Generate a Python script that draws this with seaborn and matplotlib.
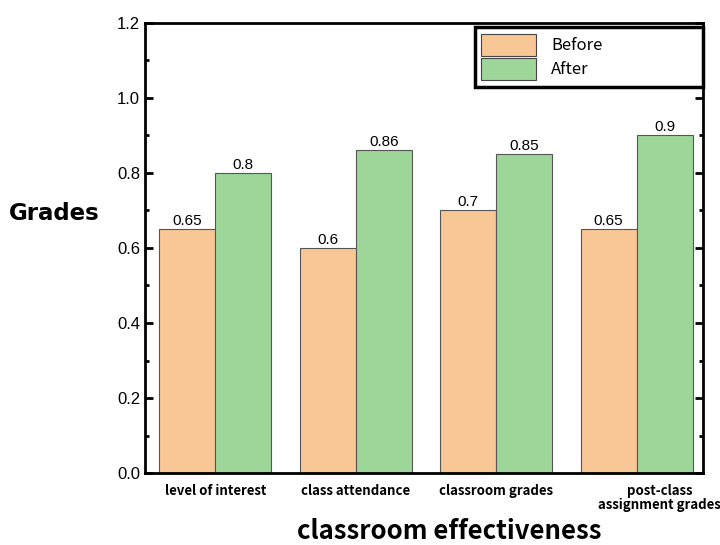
import numpy as np
import pandas as pd
import matplotlib as mpl
mpl.use('Agg')
import matplotlib.pyplot as plt
import matplotlib.transforms as mtransforms
import seaborn as sns
from matplotlib.ticker import MultipleLocator

# データ
categories = ["level of interest", "class attendance", "classroom grades",
              "post-class\nassignment grades"]
before = [0.65, 0.6, 0.7, 0.65]
after = [0.8, 0.86, 0.85, 0.9]
groups = ["Before", "After"]
colors = ["#F9C795", "#9ED69A"]

df = pd.DataFrame({
    "category": categories * 2,
    "value": before + after,
    "group": [groups[0]] * len(before) + [groups[1]] * len(after),
})

sns.set_style("ticks", {"axes.edgecolor": "black", "text.color": "black",
                        "axes.labelcolor": "black", "xtick.color": "black",
                        "ytick.color": "black"})
plt.rcParams['font.family'] = ['Liberation Sans', 'DejaVu Sans']

fig = plt.figure(figsize=(7.2, 5.45), dpi=100)
ax = fig.add_axes([0.2014, 0.132, 0.7746, 0.826])

sns.barplot(data=df, x="category", y="value", hue="group", order=categories,
            hue_order=groups, palette=colors, saturation=1, width=0.8,
            edgecolor="#555555", linewidth=0.8, ax=ax)

for cont in ax.containers:
    ax.bar_label(cont, fmt="%g", fontsize=11, padding=1, color="black")

ax.set_xlim(-0.5, 3.47)
ax.set_ylim(0, 1.2)
ax.yaxis.set_major_locator(MultipleLocator(0.2))
ax.yaxis.set_minor_locator(MultipleLocator(0.1))
ax.tick_params(axis="both", which="both", direction="in", width=2,
               right=True, top=False, colors="black")
ax.tick_params(axis="y", which="major", length=6, labelsize=12)
ax.tick_params(axis="y", which="minor", length=3)
ax.tick_params(axis="x", which="major", length=5, pad=8)
for s in ax.spines.values():
    s.set_linewidth(2)
    s.set_color("black")
    s.set_visible(True)

labs = ax.get_xticklabels()
for lab in labs:
    lab.set_fontfamily(['Noto Sans CJK JP', 'DejaVu Sans'])
    lab.set_fontweight("bold")
    lab.set_fontsize(9.5)
    lab.set_linespacing(1.0)
# 最後のラベルは右にずらす
shift = mtransforms.ScaledTranslation(0.23, 0, fig.dpi_scale_trans)
labs[-1].set_transform(labs[-1].get_transform() + shift)

ax.set_ylabel("Grades", fontsize=16.5, fontweight="bold", rotation=0,
              family=['DejaVu Sans'])
ax.yaxis.set_label_coords(-0.162, 0.55)
ax.set_xlabel("classroom effectiveness", fontsize=18.5, fontweight="bold",
              family=['Noto Sans CJK JP', 'DejaVu Sans'])
ax.xaxis.set_label_coords(0.545, -0.1)

leg = ax.legend(loc="upper left", bbox_to_anchor=(0.591, 0.991, 0.409, 0.0),
                mode="expand", fancybox=False, borderaxespad=0,
                edgecolor="black", framealpha=1, handlelength=3.3,
                handleheight=1.7, borderpad=0.4, labelspacing=0.1,
                handletextpad=0.9,
                prop={"family": ['Noto Sans CJK JP', 'DejaVu Sans'], "size": 12})
leg.get_frame().set_linewidth(2.5)
for h in leg.legend_handles:
    h.set_edgecolor("#444444")

plt.savefig("out.png", dpi=100)
